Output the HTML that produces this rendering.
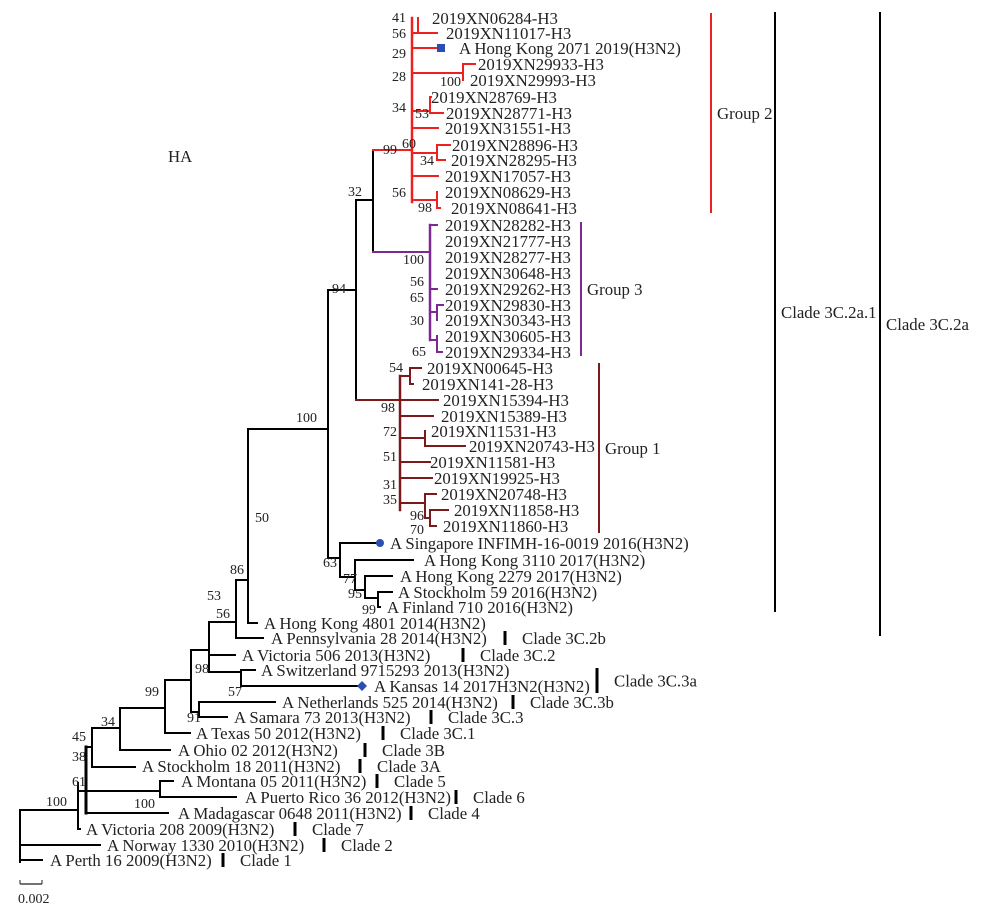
<!DOCTYPE html>
<html><head><meta charset="utf-8"><style>
body{margin:0;background:#fff}
svg{display:block;font-family:"Liberation Serif",serif}
text{font-size:16.8px;fill:#222}
.bs{font-size:14px}
</style></head><body>
<svg id="tree" width="985" height="906" viewBox="0 0 985 906">
<g id="branches"></g>
<g id="labels"></g>
<g id="boots"></g>
<g id="clades"></g>
<text x="168" y="162">HA</text>
<line x1="20" y1="884" x2="42" y2="884" stroke="#222" stroke-width="1.2"/>
<line x1="20" y1="880" x2="20" y2="884" stroke="#222"/><line x1="42" y1="880" x2="42" y2="884" stroke="#222"/>
<text x="18" y="903" class="bs">0.002</text>
</svg>
<script>
const K='#000',R='#f02020',P='#7a2a90',B='#7a1a1a';
const segs=[
[20,810,20,862,K,2],[20,810,78,810,K,2],[20,845,100,845,K,2],[20,860,42,860,K,2],
[78,783,78,829,K,2],[78,829,80,829,K,2],[78,791,86,791,K,2],
[86,747,86,813,K,3],[86,813,168,813,K,2],[86,791,160,791,K,2],[160,781,160,797,K,2],[160,781,173,781,K,2],[160,797,236,797,K,2],
[86,747,92,747,K,2],[92,728,92,767,K,2],[92,767,135,767,K,2],[92,728,120,728,K,2],
[120,708,120,750,K,2],[120,750,170,750,K,2],[120,708,165,708,K,2],
[165,680,165,733,K,2],[165,733,190,733,K,2],[165,680,191,680,K,2],
[191,650,191,712,K,2],[191,712,199,712,K,2],[199,702,199,717,K,2],[199,702,275,702,K,2],[199,717,227,717,K,2],
[191,650,209,650,K,2],[209,622,209,672,K,2],[209,655,235,655,K,2],[209,672,241,672,K,2],
[241,670,241,686,K,2],[241,670,255,670,K,2],[241,686,360,686,K,2],
[209,622,236,622,K,2],[236,580,236,638,K,2],[236,638,263,638,K,2],[236,580,248,580,K,2],
[248,429,248,623,K,2],[248,623,257,623,K,2],[248,429,328,429,K,2],
[328,290,328,558,K,2],[328,558,340,558,K,2],[340,543,340,577,K,2],[340,543,376,543,K,2],[340,577,355,577,K,2],
[355,560,355,590,K,2],[355,560,413,560,K,2],[355,590,365,590,K,2],[365,576,365,598,K,2],[365,576,392,576,K,2],[365,598,378,598,K,2],
[378,592,378,607,K,2],[378,592,392,592,K,2],[378,607,380,607,K,2],
[328,290,356,290,K,2],[356,200,356,400,K,2],[356,200,373,200,K,2],[373,150,373,252,K,2],
[373,150,412,150,R,2],[412,18,412,202,R,2.5],[418,18,418,33,R,2],[412,33,437,33,R,2],[412,48,437,48,R,2],
[412,73,463,73,R,2],[463,64,463,80,R,2],[463,64,475,64,R,2],
[412,111,430,111,R,2],[430,97,430,113,R,2],[430,97,431,97,R,2],[430,113,443,113,R,2],
[412,128,438,128,R,2],[412,153,437,153,R,2],[437,145,437,160,R,2],[437,145,450,145,R,2],[437,160,445,160,R,2],
[412,176,438,176,R,2],[412,200,437,200,R,2],[437,192,437,208,R,2],[437,208,440,208,R,2],
[373,252,430,252,P,2],[430,225,430,340,P,2.5],[430,225,437,225,P,2],[430,289,437,289,P,2],
[430,312,437,312,P,2],[437,305,437,320,P,2],[437,305,443,305,P,2],
[430,340,437,340,P,2],[437,336,437,352,P,2],[437,352,442,352,P,2],
[356,400,400,400,B,2],[400,376,400,510,B,2.5],[400,376,410,376,B,2],[410,368,410,384,B,2],[410,368,421,368,B,2],[410,384,413,384,B,2],
[400,400,438,400,B,2],[400,416,433,416,B,2],[400,438,425,438,B,2],[425,431,425,446,B,2],[425,446,465,446,B,2],
[400,462,430,462,B,2],[400,478,432,478,B,2],[400,503,425,503,B,2],[425,494,425,518,B,2],[425,494,436,494,B,2],
[425,518,430,518,B,2],[430,510,430,526,B,2],[430,510,448,510,B,2],[430,526,436,526,B,2]
];
const leafNames=["2019XN06284-H3","2019XN11017-H3","A Hong Kong 2071 2019(H3N2)","2019XN29933-H3","2019XN29993-H3","2019XN28769-H3","2019XN28771-H3","2019XN31551-H3","2019XN28896-H3","2019XN28295-H3","2019XN17057-H3","2019XN08629-H3","2019XN08641-H3",
"2019XN28282-H3","2019XN21777-H3","2019XN28277-H3","2019XN30648-H3","2019XN29262-H3","2019XN29830-H3","2019XN30343-H3","2019XN30605-H3","2019XN29334-H3",
"2019XN00645-H3","2019XN141-28-H3","2019XN15394-H3","2019XN15389-H3","2019XN11531-H3","2019XN20743-H3","2019XN11581-H3","2019XN19925-H3","2019XN20748-H3","2019XN11858-H3","2019XN11860-H3",
"A Singapore INFIMH-16-0019 2016(H3N2)","A Hong Kong 3110 2017(H3N2)","A Hong Kong 2279 2017(H3N2)","A Stockholm 59 2016(H3N2)","A Finland 710 2016(H3N2)","A Hong Kong 4801 2014(H3N2)","A Pennsylvania 28 2014(H3N2)","A Victoria 506 2013(H3N2)","A Switzerland 9715293 2013(H3N2)","A Kansas 14 2017H3N2(H3N2)","A Netherlands 525 2014(H3N2)","A Samara 73 2013(H3N2)","A Texas 50 2012(H3N2)","A Ohio 02 2012(H3N2)","A Stockholm 18 2011(H3N2)","A Montana 05 2011(H3N2)","A Puerto Rico 36 2012(H3N2)","A Madagascar 0648 2011(H3N2)","A Victoria 208 2009(H3N2)","A Norway 1330 2010(H3N2)","A Perth 16 2009(H3N2)"];
const leafX=[432,446,459,478,470,431,446,445,452,451,445,445,451,445,445,445,445,445,445,445,445,445,427,422,443,441,431,469,430,434,441,454,443,390,424,400,398,387,264,271,242,261,374,282,234,196,178,142,181,245,178,86,107,50];
const leafY=[18,33,48,64,80,97,113,128,145,160,176,192,208,225,241,257,273,289,305,320,336,352,368,384,400,416,431,446,462,478,494,510,526,543,560,576,592,607,623,638,655,670,686,702,717,733,750,766,781,797,813,829,845,860];
const bsVals=["41","56","29","28","100","34","53","99","60","34","56","98","32","100","56","65","30","65","94","54","98","72","51","31","35","96","70","100","63","77","95","99","50","86","53","56","57","98","91","99","34","45","38","61","100","100"];
const bsX=[392,392,392,392,440,392,415,383,402,420,392,418,348,403,410,410,410,412,332,389,381,383,383,383,383,410,410,296,323,343,348,362,255,230,207,216,228,195,187,145,101,72,72,72,46,134];
const bsY=[22,38,58,81,86,112,118,154,148,165,197,212,196,264,286,302,325,356,293,372,412,436,461,489,504,520,534,422,567,583,598,614,522,574,600,618,696,673,722,696,726,741,761,786,806,808];
const cladeNames=["Group 2","Group 3","Group 1","Clade 3C.2a.1","Clade 3C.2a","Clade 3C.2b","Clade 3C.2","Clade 3C.3a","Clade 3C.3b","Clade 3C.3","Clade 3C.1","Clade 3B","Clade 3A","Clade 5","Clade 6","Clade 4","Clade 7","Clade 2","Clade 1"];
const cladeX=[711,581,599,775,880,505,463,597,513,431,383,365,360,377,456,411,295,324,223];
const cladeY1=[13,222,363,12,12,631,648,668,695,710,726,743,759,774,790,806,822,838,853];
const cladeY2=[213,356,533,612,636,645,662,693,709,724,740,757,773,788,804,820,836,852,867];
const cladeCol=[R,P,B,K,K,K,K,K,K,K,K,K,K,K,K,K,K,K,K];
const ns='http://www.w3.org/2000/svg';
const gB=document.getElementById('branches'),gL=document.getElementById('labels'),gS=document.getElementById('boots'),gC=document.getElementById('clades');
function mk(t,a){const e=document.createElementNS(ns,t);for(const k in a)e.setAttribute(k,a[k]);return e;}
segs.forEach(s=>{const l=mk('line',{x1:s[0],y1:s[1],x2:s[2],y2:s[3],stroke:s[4],'stroke-width':s[5],'stroke-linecap':'square'});


gB.appendChild(l);});
leafNames.forEach((n,i)=>{const t=mk('text',{x:leafX[i],y:leafY[i]+6});t.textContent=n;


gL.appendChild(t);});
bsVals.forEach((v,i)=>{const t=mk('text',{x:bsX[i],y:bsY[i],class:'bs'});t.textContent=v;


gS.appendChild(t);});
cladeNames.forEach((n,i)=>{const w=i<5?2:3;const l=mk('line',{x1:cladeX[i],y1:cladeY1[i],x2:cladeX[i],y2:cladeY2[i],stroke:cladeCol[i],'stroke-width':w});


gC.appendChild(l);
const t=mk('text',{x:cladeX[i]+(i<5?6:17),y:(cladeY1[i]+cladeY2[i])/2+6});t.textContent=n;


gC.appendChild(t);});
const sq=mk('rect',{x:437,y:44,width:8,height:8,fill:'#2a4fb0'});


gL.appendChild(sq);
const c=mk('circle',{cx:380,cy:543,r:4,fill:'#2a4fb0'});


gL.appendChild(c);
const d=mk('polygon',{points:'362,681 367,686 362,691 357,686',fill:'#2a4fb0'});


gL.appendChild(d);
</script>
</body></html>
